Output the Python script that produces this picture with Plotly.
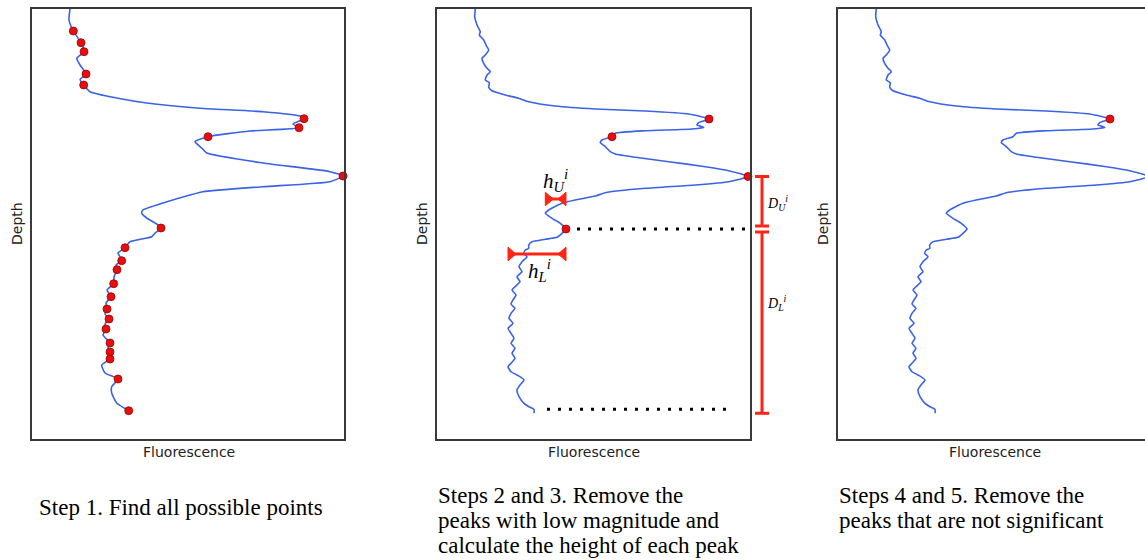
import plotly.graph_objects as go

# ---------------- data ----------------
# Step 1 profile (smoothed) : fluorescence (a.u.) vs depth (m)
step1_fluor = [0.38, 0.37, 0.413, 0.49, 0.52, 0.447, 0.48, 0.54, 0.48, 0.517,
               0.58, 0.847, 1.147, 1.647, 2.31, 2.68, 2.72, 2.61, 2.67, 2.18,
               1.76, 1.63, 1.697, 1.747, 2.31, 2.98, 3.11, 2.98, 2.31, 1.71,
               1.58, 1.31, 1.11, 1.097, 1.147, 1.247, 1.29, 1.23, 1.197, 0.98,
               0.93, 0.86, 0.88, 0.897, 0.84, 0.85, 0.82, 0.817, 0.75, 0.79,
               0.74, 0.75, 0.73, 0.77, 0.73, 0.74, 0.71, 0.78, 0.76, 0.78,
               0.76, 0.78, 0.697, 0.73, 0.86, 0.797, 0.797, 0.847, 0.967]
step1_depth = [0, 5.5, 11.0, 16.85, 21.35, 24.65, 28.0, 32.5, 35.15, 38.0,
               41.35, 44.5, 47.0, 49.5, 51.35, 53.5, 54.85, 57.5, 59.35, 61.0,
               63.85, 66.35, 69.5, 72.0, 77.0, 81.35, 83.5, 86.35, 88.85, 91.35,
               93.0, 97.0, 100.5, 102.0, 104.5, 107.5, 109.5, 112.0, 113.85, 116.35,
               119.35, 122.0, 123.85, 125.85, 128.0, 130.35, 134.0, 137.35, 140.5, 143.85,
               147.0, 150.0, 152.5, 155.0, 157.5, 160.0, 163.0, 167.0, 169.5, 171.5,
               173.5, 175.0, 178.0, 182.0, 185.0, 188.85, 192.0, 197.0, 200.85]
# indices of all candidate points found in step 1
step1_points = [2, 3, 4, 7, 9, 16, 18, 20, 26, 36, 40, 43, 45, 47, 49, 51, 53,
                55, 57, 59, 61, 64, 68]

# Raw profile used in steps 2-5
raw_fluor = [0.383, 0.377, 0.40, 0.433, 0.423, 0.467, 0.49, 0.517, 0.483, 0.45,
             0.467, 0.50, 0.533, 0.50, 0.483, 0.523, 0.517, 0.55, 0.683, 0.817,
             0.917, 1.183, 1.583, 2.083, 2.517, 2.72, 2.617, 2.60, 2.667, 2.55,
             2.083, 1.783, 1.75, 1.65, 1.633, 1.683, 1.733, 1.783, 1.983, 2.317,
             2.683, 2.917, 3.11, 2.917, 2.583, 2.083, 1.683, 1.583, 1.383, 1.25,
             1.117, 1.083, 1.15, 1.233, 1.29, 1.25, 1.20, 1.083, 0.95, 0.917,
             0.917, 0.883, 0.867, 0.90, 0.85, 0.82, 0.85, 0.80, 0.83, 0.78,
             0.75, 0.79, 0.76, 0.74, 0.78, 0.74, 0.72, 0.76, 0.71, 0.74,
             0.77, 0.74, 0.78, 0.75, 0.78, 0.74, 0.71, 0.74, 0.80, 0.87,
             0.83, 0.80, 0.82, 0.87, 0.92, 0.97, 0.97]
raw_depth = [0, 3.85, 8.0, 11.35, 13.0, 15.5, 18.0, 20.5, 23.0, 24.65,
             27.15, 29.65, 31.35, 33.0, 35.5, 36.85, 39.15, 40.85, 43.0, 44.65,
             46.35, 48.5, 50.0, 51.0, 52.5, 55.0, 56.85, 58.0, 59.15, 60.0,
             60.85, 62.15, 63.85, 65.5, 66.85, 68.85, 71.35, 72.5, 74.15, 76.35,
             78.85, 80.85, 83.75, 86.35, 88.0, 89.65, 91.85, 93.5, 95.5, 97.15,
             100.5, 102.15, 104.65, 107.15, 110.0, 112.15, 114.15, 115.15, 116.35, 118.0,
             119.65, 120.5, 122.15, 123.85, 126.35, 128.85, 131.35, 133.85, 136.35, 138.85,
             140.5, 143.0, 145.5, 147.5, 149.65, 152.15, 154.65, 157.15, 159.65, 162.15,
             164.65, 167.15, 169.65, 172.15, 174.65, 177.15, 178.85, 181.35, 183.0, 185.5,
             188.0, 190.5, 193.85, 197.15, 198.85, 200.15, 202.15]
step2_points = [25, 32, 42, 54]   # peaks kept after removing low-magnitude ones
step4_points = [25]               # significant peak(s)
peak_main = 42                    # main peak
peak_i = 54                       # peak i used for the heights

captions = [
    ["Step 1. Find all possible points"],
    ["Steps 2 and 3. Remove the", "peaks with low magnitude and",
     "calculate the height of each peak"],
    ["Steps 4 and 5. Remove the", "peaks that are not significant"],
]

# ---------------- layout constants ----------------
W, H = 1145, 560
BLUE = "#3a63e6"
RED = "#ff2414"
DOTRED = "#e60f0f"
box_px = [(32, 344), (437, 750), (838, 1145)]
xranges = [[0, 3.12], [0, 3.13], [0, 3.07]]
TOP, BOT = 9, 439
yr = [215, 0]
ydom = [1 - BOT / H, 1 - TOP / H]

def px(xp):
    return xp / W

def py(yp):
    return 1 - yp / H

fig = go.Figure()

axes = [("x", "y"), ("x2", "y2"), ("x3", "y3")]
profiles = [(step1_fluor, step1_depth, step1_points, 8),
            (raw_fluor, raw_depth, step2_points, 8),
            (raw_fluor, raw_depth, step4_points, 8)]

for k, ((xa, ya), (fl, dp, pts, ms)) in enumerate(zip(axes, profiles)):
    fig.add_trace(go.Scatter(x=fl, y=dp, mode="lines", xaxis=xa, yaxis=ya,
                             line=dict(color=BLUE, width=1.6, shape="spline", smoothing=0.5),
                             hoverinfo="skip"))

# dotted reference lines in panel 2
ci_f, ci_d = raw_fluor[peak_i], raw_depth[peak_i]
end_d = raw_depth[-1]
fig.add_trace(go.Scatter(x=[ci_f, xranges[1][1]], y=[ci_d, ci_d], mode="lines",
                         xaxis="x2", yaxis="y2",
                         line=dict(color="black", width=3, dash="3px,8px")))
fig.add_trace(go.Scatter(x=[1.10, 2.96], y=[end_d - 2, end_d - 2], mode="lines",
                         xaxis="x2", yaxis="y2",
                         line=dict(color="black", width=3, dash="3px,8px")))

for (xa, ya), (fl, dp, pts, ms) in zip(axes, profiles):
    fig.add_trace(go.Scatter(x=[fl[i] for i in pts], y=[dp[i] for i in pts],
                             mode="markers", xaxis=xa, yaxis=ya, cliponaxis=False,
                             marker=dict(color=DOTRED, size=ms,
                                         line=dict(color="#a00000", width=0.8))))

shapes = []
# h bars (horizontal, triangles pointing inward)
th, tw = 3.4, 0.08
hU_left = min(raw_fluor[peak_main:peak_i + 1])
hL_left = min(raw_fluor[peak_i:])
hU_y = ci_d - 15
hL_y = ci_d + 12.5
for x0, x1, yy in [(hU_left, ci_f, hU_y), (hL_left, ci_f, hL_y)]:
    shapes.append(dict(type="line", xref="x2", yref="y2", x0=x0, x1=x1, y0=yy, y1=yy,
                       line=dict(color=RED, width=3)))
    shapes.append(dict(type="path", xref="x2", yref="y2",
                       path=f"M {x0},{yy - th} L {x0},{yy + th} L {x0 + tw},{yy} Z",
                       fillcolor=RED, line=dict(color=RED, width=1)))
    shapes.append(dict(type="path", xref="x2", yref="y2",
                       path=f"M {x1},{yy - th} L {x1},{yy + th} L {x1 - tw},{yy} Z",
                       fillcolor=RED, line=dict(color=RED, width=1)))

# D bars (vertical, with caps) right of panel 2
dx = px(762)
cap = 7 / W
pk_d = raw_depth[peak_main]
for y0, y1 in [(pk_d, ci_d - 1.5), (ci_d + 1.5, end_d)]:
    shapes.append(dict(type="line", xref="paper", yref="y2", x0=dx, x1=dx, y0=y0, y1=y1,
                       line=dict(color=RED, width=3)))
    for yy in (y0, y1):
        shapes.append(dict(type="line", xref="paper", yref="y2", x0=dx - cap, x1=dx + cap,
                           y0=yy, y1=yy, line=dict(color=RED, width=3)))

annotations = []
math_font = dict(family="Liberation Serif, DejaVu Serif, serif", size=21, color="black")
annotations.append(dict(text="<i>h</i><sub><i>U</i></sub><sup><i>i</i></sup>",
                        x=(hU_left + ci_f) / 2, y=hU_y - 9, xref="x2", yref="y2",
                        xanchor="center", yanchor="middle",
                        showarrow=False, font=math_font))
annotations.append(dict(text="<i>h</i><sub><i>L</i></sub><sup><i>i</i></sup>",
                        x=(hL_left + ci_f) / 2 + 0.02, y=hL_y + 8.5, xref="x2", yref="y2",
                        xanchor="center", yanchor="middle",
                        showarrow=False, font=math_font))
small_math = dict(family="Liberation Serif, DejaVu Serif, serif", size=14, color="black")
annotations.append(dict(text="<i>D</i><sub><i>U</i></sub><sup><i>i</i></sup>",
                        x=px(765), y=(pk_d + ci_d) / 2, xref="paper", yref="y2",
                        xanchor="left", yanchor="middle", showarrow=False, font=small_math))
annotations.append(dict(text="<i>D</i><sub><i>L</i></sub><sup><i>i</i></sup>",
                        x=px(765), y=ci_d + 0.4 * (end_d - ci_d), xref="paper", yref="y2",
                        xanchor="left", yanchor="middle", showarrow=False, font=small_math))

label_font = dict(family="DejaVu Sans, Open Sans, sans-serif", size=14, color="#222222")
for (l, r) in box_px:
    rr = l + 313
    annotations.append(dict(text="Fluorescence", x=px((l + rr) / 2), y=py(452),
                            xref="paper", yref="paper", xanchor="center", yanchor="middle",
                            showarrow=False, font=label_font))
    annotations.append(dict(text="Depth", x=px(l - 15), y=py(224), textangle=-90,
                            xref="paper", yref="paper", xanchor="center", yanchor="middle",
                            showarrow=False, font=label_font))

cap_font = dict(family="Liberation Serif, Times New Roman, serif", size=23, color="black")
cap_x = [38, 437, 838]
cap_base = [[515], [503, 528, 553], [503, 528]]
for lines, xs, bases in zip(captions, cap_x, cap_base):
    for t, b in zip(lines, bases):
        annotations.append(dict(text=t, x=px(xs - 1), y=py(b - 7.6), xref="paper", yref="paper",
                                xanchor="left", yanchor="middle", showarrow=False,
                                font=cap_font))

ax_common = dict(showticklabels=False, ticks="", showgrid=False, zeroline=False,
                 showline=True, linecolor="#3a3a3a", linewidth=1.5)
layout = dict(width=W, height=H, margin=dict(l=0, r=0, t=0, b=0),
              paper_bgcolor="white", plot_bgcolor="white", showlegend=False,
              shapes=shapes, annotations=annotations)
for k, (l, r) in enumerate(box_px):
    sfx = "" if k == 0 else str(k + 1)
    layout["xaxis" + sfx] = dict(ax_common, domain=[px(l), px(r)], range=xranges[k],
                                 mirror=True, anchor="y" + sfx)
    layout["yaxis" + sfx] = dict(ax_common, domain=ydom, range=yr,
                                 mirror=(k < 2), anchor="x" + sfx)
fig.update_layout(**layout)

fig.write_html("out.html")
